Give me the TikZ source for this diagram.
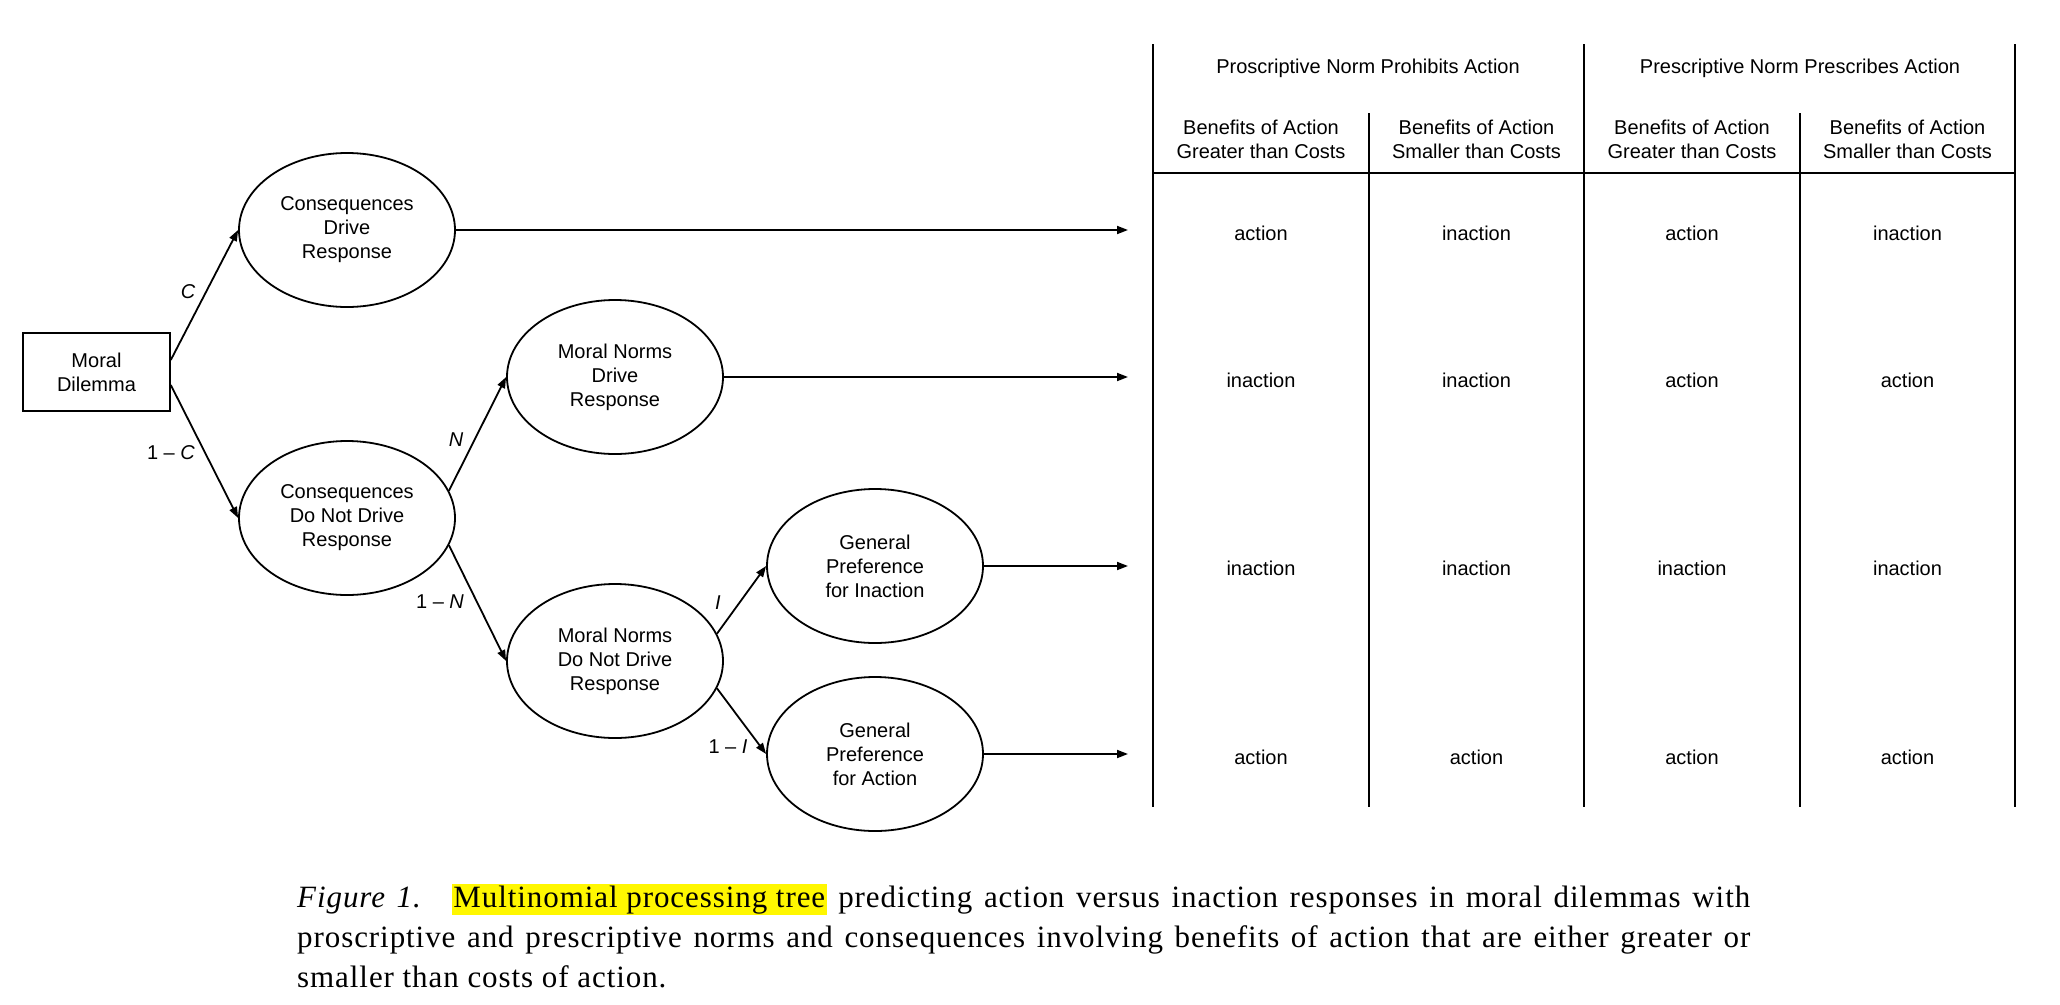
\documentclass[tikz,border=0pt]{standalone}
\usepackage{fontspec}
\setmainfont{Liberation Serif}
\newfontfamily\arialf{Liberation Sans}
\newfontfamily\capfont[LetterSpace=3]{Liberation Serif}
\usetikzlibrary{shapes.geometric,arrows.meta}
\definecolor{hly}{HTML}{FFF700}
\begin{document}
\begin{tikzpicture}[x=1pt,y=-1pt,
  every node/.style={font=\arialf\fontsize{20}{24}\selectfont},
  ell/.style={ellipse, draw, line width=1.8pt, minimum width=216pt, minimum height=154pt, inner sep=0pt, align=center},
  mbox/.style={rectangle, draw, line width=1.6pt, minimum width=147pt, minimum height=78pt, align=center},
  conn/.style={line width=1.8pt, -{Triangle[length=11pt,width=8pt]}},
  tline/.style={line width=1.8pt},
  cell/.style={align=center},
  plab/.style={inner sep=0pt},
  capline/.style={anchor=base west, inner sep=0pt, font=\capfont\fontsize{31}{40}\selectfont}
]
\useasboundingbox (0,0) rectangle (2060,1004);
\fill[white] (0,0) rectangle (2060,1004);

% tree nodes
\node[mbox] (md) at (96.5,372) {Moral\\Dilemma};
\node[ell] (cdr) at (347,230) {Consequences\\Drive\\Response};
\node[ell] (cdnd) at (347,518) {Consequences\\Do Not Drive\\Response};
\node[ell] (mndr) at (615,377) {Moral Norms\\Drive\\Response};
\node[ell] (mndnd) at (615,661) {Moral Norms\\Do Not Drive\\Response};
\node[ell] (gpi) at (875,566) {General\\Preference\\for Inaction};
\node[ell] (gpa) at (875,754) {General\\Preference\\for Action};

% arrow ends at table
\coordinate (e1) at (1128,230);
\coordinate (e2) at (1128,377);
\coordinate (e3) at (1128,566);
\coordinate (e4) at (1128,754);

% connectors
\draw[conn] ([yshift=12pt]md.east) -- (cdr.west);
\draw[conn] ([yshift=-13pt]md.east) -- (cdnd.west);
\draw[conn] (cdnd.15) -- (mndr.west);
\draw[conn] (cdnd.-15) -- (mndnd.west);
\draw[conn] (mndnd.15) -- (gpi.west);
\draw[conn] (mndnd.-15) -- (gpa.west);
\draw[conn] (cdr.east) -- (e1);
\draw[conn] (mndr.east) -- (e2);
\draw[conn] (gpi.east) -- (e3);
\draw[conn] (gpa.east) -- (e4);

% probability labels
\node[plab] (lc) at (188,292) {\itshape C};
\node[plab] (l1c) at (171,453) {1 – \textit{C}};
\node[plab] (ln) at (456,440) {\textit{N}};
\node[plab] (l1n) at (440,602) {1 – \textit{N}};
\node[plab] (li) at (718,603) {\textit{I}};
\node[plab] (l1i) at (728,747) {1 – \textit{I}};

% table lines
\draw[tline] (1153,44) -- (1153,807);
\draw[tline] (1584,44) -- (1584,807);
\draw[tline] (2015,44) -- (2015,807);
\draw[tline] (1369,113) -- (1369,807);
\draw[tline] (1800,113) -- (1800,807);
\draw[tline] (1153,173) -- (2015,173);

% table headers
\node (h1) at (1368,68) {Proscriptive Norm Prohibits Action};
\node (h2) at (1800,68) {Prescriptive Norm Prescribes Action};
\node[cell] (s1) at (1261,139) {Benefits of Action\\Greater than Costs};
\node[cell] (s2) at (1476.5,139) {Benefits of Action\\Smaller than Costs};
\node[cell] (s3) at (1692,139) {Benefits of Action\\Greater than Costs};
\node[cell] (s4) at (1907.5,139) {Benefits of Action\\Smaller than Costs};

% table cells
\node (c11) at (1261,233) {action};
\node (c12) at (1476.5,233) {inaction};
\node (c13) at (1692,233) {action};
\node (c14) at (1907.5,233) {inaction};
\node (c21) at (1261,380) {inaction};
\node (c22) at (1476.5,380) {inaction};
\node (c23) at (1692,380) {action};
\node (c24) at (1907.5,380) {action};
\node (c31) at (1261,568) {inaction};
\node (c32) at (1476.5,568) {inaction};
\node (c33) at (1692,568) {inaction};
\node (c34) at (1907.5,568) {inaction};
\node (c41) at (1261,757) {action};
\node (c42) at (1476.5,757) {action};
\node (c43) at (1692,757) {action};
\node (c44) at (1907.5,757) {action};

% caption
\node[capline] (cap1) at (297,907) {\makebox[1453pt][s]{\textit{Figure 1.}\hspace{30pt}{\setlength{\fboxsep}{1.5pt}\colorbox{hly}{Multinomial processing tree}} predicting action versus inaction responses in moral dilemmas with}};
\node[capline] (cap2) at (297,947) {\makebox[1453pt][s]{proscriptive and prescriptive norms and consequences involving benefits of action that are either greater or}};
\node[capline] (cap3) at (297,987) {smaller than costs of action.};
\end{tikzpicture}
\end{document}
